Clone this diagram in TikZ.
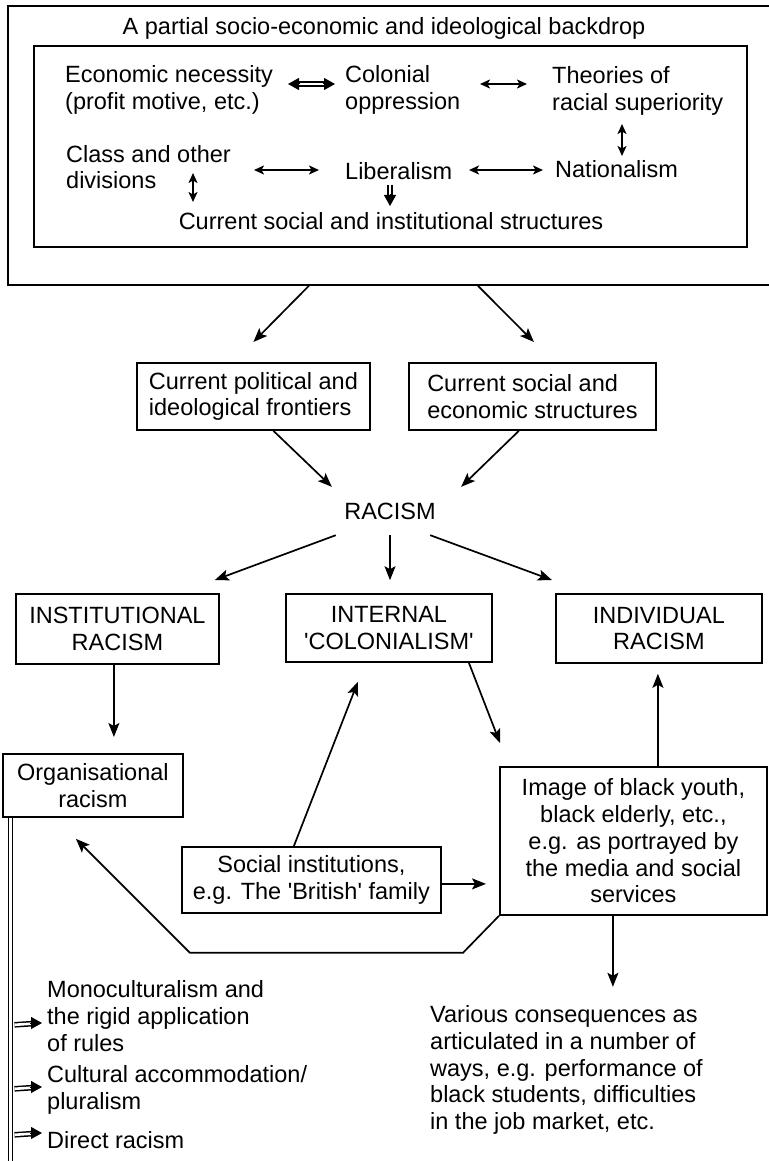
\documentclass[tikz,border=0pt]{standalone}
\usepackage{fontspec}
\setmainfont{Liberation Sans}
\usetikzlibrary{arrows.meta,calc}
\begin{document}
\begin{tikzpicture}[x=1pt,y=-1pt,
  every node/.style={font=\fontsize{23.5}{26.7}\selectfont, inner sep=0pt},
  box/.style={draw, line width=1.8pt, align=center},
  arr/.style={line width=1.7pt, -{Stealth[length=14pt,width=11pt,inset=3pt]}},
  sarr/.style={line width=1.6pt, {Stealth[length=10pt,width=9pt,inset=2.5pt]}-{Stealth[length=10pt,width=9pt,inset=2.5pt]}},
  dshaft/.style={double, double distance=2.6pt, line width=1.5pt},
  dtip/.style={line width=1pt, -{Triangle[length=11pt,width=12pt]}}]
\useasboundingbox (0,0) rectangle (768,1161);

% top backdrop
\node[box, anchor=north west, minimum width=800pt, minimum height=279pt] (outer) at (7,5) {};
\node (title) at (384,28) {A partial socio-economic and ideological backdrop};
\node[box, anchor=north west, minimum width=713pt, minimum height=201pt] (inner) at (33,45) {};
\node[align=left, anchor=west] (econ) at (65,90) {Economic necessity\\(profit motive, etc.)};
\node[align=left, anchor=west] (colo) at (345,90) {Colonial\\oppression};
\node[align=left, anchor=west] (theo) at (552,91) {Theories of\\racial superiority};
\node[align=left, anchor=west] (class) at (66,167) {Class and other\\divisions};
\node[anchor=west] (lib) at (345,171) {Liberalism};
\node[anchor=west] (nat) at (555,169) {Nationalism};
\node (cur) at (391,221) {Current social and institutional structures};

% arrows inside backdrop
\draw[dshaft, shorten <=9pt, shorten >=9pt] ($(econ.west)+(223,-6)$) -- ($(colo.west)+(-10,-6)$);
\draw[dtip] ($(econ.west)+(235,-6)$) -- ($(econ.west)+(223,-6)$);
\draw[dtip] ($(colo.west)+(-22,-6)$) -- ($(colo.west)+(-10,-6)$);
\draw[sarr] ($(colo.west)+(135,-6)$) -- ($(theo.west)+(-25,-7)$);
\draw[sarr] ($(theo.west)+(70,33)$) -- ($(nat.west)+(67,-13)$);
\draw[sarr] ($(class.west)+(188,3)$) -- ($(lib.west)+(-26,-1)$);
\draw[sarr] ($(lib.west)+(124,-1)$) -- ($(nat.west)+(-12,1)$);
\draw[sarr] ($(class.west)+(127,6)$) -- ($(cur.center)+(-198,-19)$);
\draw[dshaft, shorten >=9pt] ($(lib.west)+(45,14)$) -- ($(cur.center)+(-1,-15)$);
\draw[dtip] ($(cur.center)+(-1,-27)$) -- ($(cur.center)+(-1,-15)$);

% main boxes
\node[box, align=left, anchor=north west, minimum width=233pt, minimum height=67pt] (polit) at (136,362) {Current political and\\ideological frontiers};
\node[box, align=left, anchor=north west, minimum width=247pt, minimum height=67pt] (socecon) at (408,362) {Current social and\\economic structures};
\node[minimum width=130pt, minimum height=48pt] (racism) at (390,511) {RACISM};
\node[box, anchor=north west, minimum width=203pt, minimum height=70pt] (inst) at (15,593) {INSTITUTIONAL\\RACISM};
\node[box, anchor=north west, minimum width=206pt, minimum height=68pt] (intern) at (285,593) {INTERNAL\\\textquotesingle COLONIALISM\textquotesingle};
\node[box, anchor=north west, minimum width=206pt, minimum height=69pt] (indiv) at (555,593) {INDIVIDUAL\\RACISM};
\node[box, anchor=north west, minimum width=180pt, minimum height=63pt] (org) at (2,753) {Organisational\\racism};
\node[box, anchor=north west, minimum width=259pt, minimum height=66pt] (social) at (181,846) {Social institutions,\\e.g. The \textquotesingle British\textquotesingle{} family};
\node[box, anchor=north west, minimum width=267pt, minimum height=148pt] (image) at (499,766) {Image of black youth,\\black elderly, etc.,\\e.g. as portrayed by\\the media and social\\services};
\node[align=left, anchor=west] (various) at (430,1070) {Various consequences as\\articulated in a number of\\ways, e.g. performance of\\black students, difficulties\\in the job market, etc.};
\node[align=left, anchor=west] (mono) at (47,1016) {Monoculturalism and\\the rigid application\\of rules};
\node[align=left, anchor=west] (cult) at (47,1090) {Cultural accommodation/\\pluralism};
\node[anchor=west] (direct) at (47,1140) {Direct racism};

% main connectors
\draw[arr] ($(outer.south)+(-99,0)$) -- ($(polit.north)+(0,-20)$);
\draw[arr] ($(outer.south)+(70,0)$) -- ($(socecon.north)+(1.5,-20)$);
\draw[arr] ($(polit.south)+(20,0)$) -- ($(racism.north west)+(7,0)$);
\draw[arr] ($(socecon.south)+(-13.5,0)$) -- ($(racism.north east)+(6,0)$);
\draw[arr] ($(racism.south west)+(11,0)$) -- ($(inst.north)+(97.5,-13)$);
\draw[arr] (racism.south) -- ($(racism.south)+(0,45)$);
\draw[arr] ($(racism.south east)+(-25,0)$) -- ($(indiv.north)+(-107,-13)$);
\draw[arr] ($(inst.south)+(-3.5,0)$) -- ($(org.north)+(21,-16)$);
\draw[arr] ($(intern.south)+(80,0)$) -- ($(image.north west)+(1,-23)$);
\draw[arr] ($(social.north)+(-17.5,0)$) -- ($(intern.south)+(-31,19)$);
\draw[arr] ($(image.north)+(24.5,0)$) -- ($(indiv.south)+(-1,10)$);
\draw[arr] ($(social.east)+(0,4)$) -- ($(image.west)+(-13,43)$);
\draw[arr] (image.south west) -- ++(-36,37) -- ++(-273,0) -- ($(org.south)+(-17,21)$);
\draw[arr] ($(image.south)+(-20.5,0)$) -- ++(0,71);

% left double bar and implications
\draw[dshaft] ($(org.south west)+(8.5,0)$) -- ++(0,360);
\draw[dshaft, shorten >=9pt] ($(org.south west)+(12.5,207)$) -- ($(mono.west)+(-5,7)$);
\draw[dtip] ($(mono.west)+(-17,7)$) -- ($(mono.west)+(-5,7)$);
\draw[dshaft, shorten >=9pt] ($(org.south west)+(12.5,271)$) -- ($(cult.west)+(-5,-3)$);
\draw[dtip] ($(cult.west)+(-17,-3)$) -- ($(cult.west)+(-5,-3)$);
\draw[dshaft, shorten >=9pt] ($(org.south west)+(12.5,317)$) -- ($(direct.west)+(-5,-7)$);
\draw[dtip] ($(direct.west)+(-17,-7)$) -- ($(direct.west)+(-5,-7)$);
\end{tikzpicture}
\end{document}
